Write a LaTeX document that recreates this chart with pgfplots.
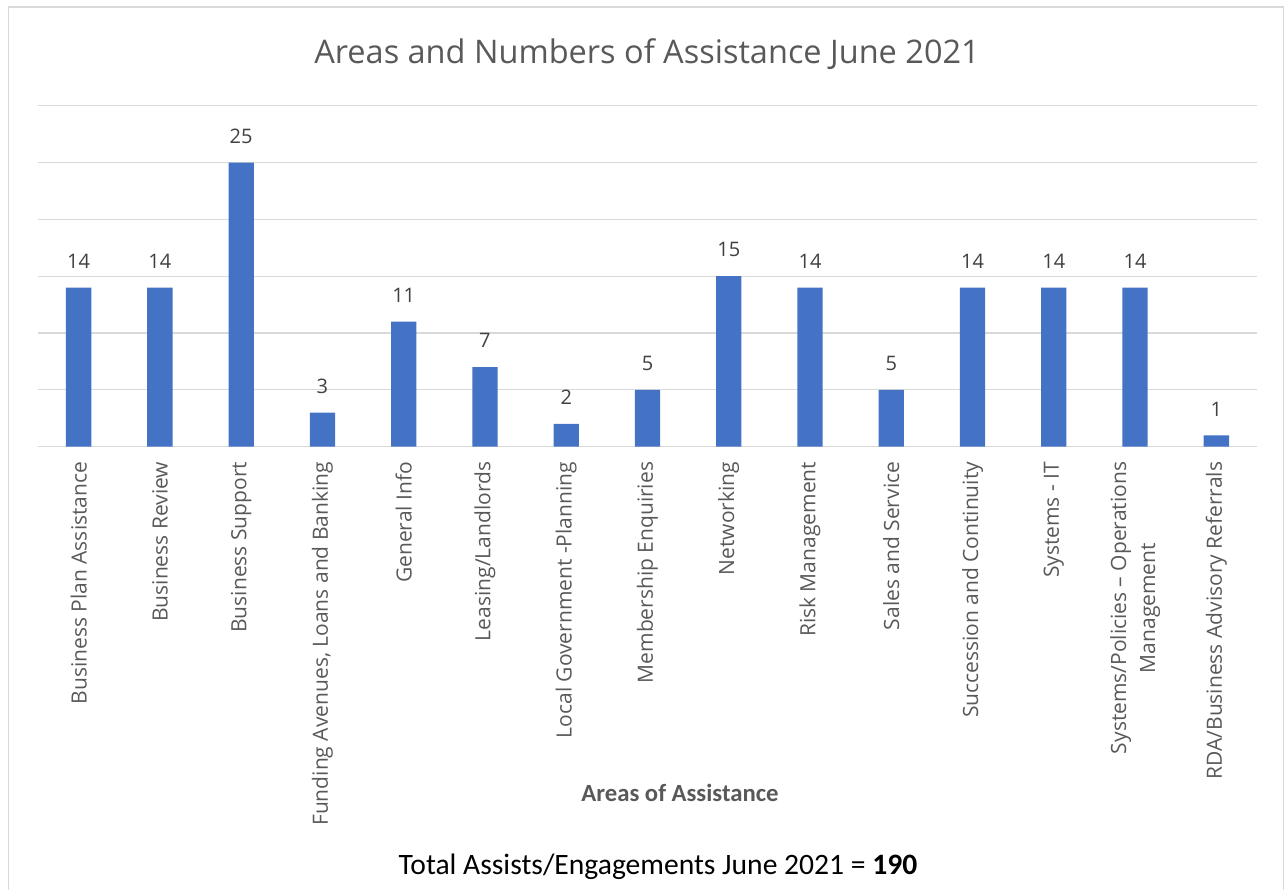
\documentclass[border=0pt]{standalone}
\usepackage{pgfplots}
\pgfplotsset{compat=1.18}
\usepackage{fontspec}
\setmainfont{Open Sans}
\newfontfamily\carlito{Carlito}
\definecolor{barblue}{RGB}{68,114,196}
\definecolor{gridgray}{RGB}{217,217,217}
\definecolor{txtgray}{RGB}{89,89,89}
\definecolor{lblgray}{RGB}{64,64,64}
\begin{document}
\begin{tikzpicture}[x=1pt,y=1pt]
\useasboundingbox (0,0) rectangle (1285,890);
\draw[gridgray, line width=1.2pt] (8.5,-5) -- (8.5,883) -- (1283.5,883) -- (1283.5,-5);
\begin{axis}[
 at={(38pt,443.3pt)}, anchor=south west,
 scale only axis, width=1219pt, height=341pt,
 xmin=-0.5, xmax=14.5, ymin=0, ymax=30,
 ybar, bar width=25.3pt,
 xtick={0,...,14},
 xticklabels={Business Plan Assistance, Business Review, Business Support, {Funding Avenues, Loans and Banking}, General Info, Leasing/Landlords, Local Government -Planning, Membership Enquiries, Networking, Risk Management, Sales and Service, Succession and Continuity, Systems - IT, {Systems/Policies – Operations\\Management}, RDA/Business Advisory Referrals},
 ytick={0,5,...,30}, yticklabels={},
 ymajorgrids, grid style={gridgray, line width=1.2pt},
 axis line style={draw=none},
 major tick length=0pt,
 xticklabel style={rotate=90, anchor=east, align=center, inner sep=0pt, font=\fontsize{21}{29}\selectfont, text=txtgray},
 xticklabel shift=15pt,
 /pgf/number format/assume math mode=true,
 nodes near coords,
 nodes near coords style={font=\fontsize{20}{24}\selectfont, text=lblgray, inner sep=0pt, yshift=19pt},
 clip=false,
]
\addplot[fill=barblue, draw=none] coordinates {
(0,14) (1,14) (2,25) (3,3) (4,11) (5,7) (6,2) (7,5) (8,15) (9,14) (10,5) (11,14) (12,14) (13,14) (14,1)};
\end{axis}
\node[anchor=base, text=txtgray, font=\fontsize{32.5}{38}\selectfont] at (647,826) {Areas and Numbers of Assistance June 2021};
\node[anchor=base, text=txtgray, font=\carlito\bfseries\fontsize{24.7}{28}\selectfont] at (680,88) {Areas of Assistance};
\node[anchor=base, text=black, font=\carlito\fontsize{29.6}{33}\selectfont] at (658,15) {Total Assists/Engagements June 2021 = \textbf{190}};
\end{tikzpicture}
\end{document}
